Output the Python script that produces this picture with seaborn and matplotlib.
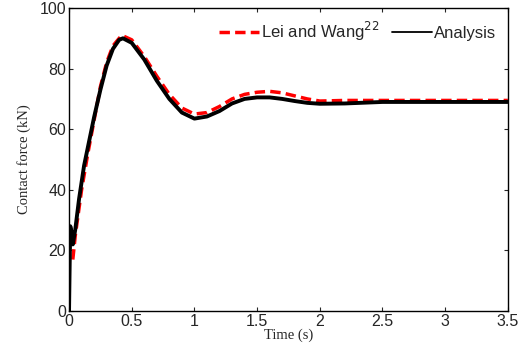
import numpy as np
import pandas as pd
import matplotlib
matplotlib.use("Agg")
import matplotlib.pyplot as plt
import seaborn as sns
from matplotlib.lines import Line2D

# Analysis curve (time in s, force in kN)
analysis_t = [0, 0.005, 0.01, 0.02, 0.03, 0.05, 0.08, 0.12, 0.16, 0.2, 0.25, 0.3, 0.35, 0.4, 0.43,
              0.5, 0.6, 0.7, 0.8, 0.9, 1.0, 1.1, 1.2, 1.3, 1.4, 1.5, 1.6, 1.7, 1.8, 1.9, 2.0,
              2.2, 2.5, 3.0, 3.5]
analysis_f = [0, 15, 28, 26, 22, 27, 37, 48, 56, 64, 73, 81, 86.5, 89.5, 90,
              88.5, 83, 76, 70, 65.5, 63.5, 64.2, 66, 68.5, 70, 70.5, 70.5, 70, 69.3, 68.7, 68.4,
              68.5, 69, 69, 69]

# Lei and Wang reference curve
lei_t = [0.03, 0.05, 0.1, 0.15, 0.2, 0.25, 0.3, 0.35, 0.42, 0.5, 0.6, 0.7, 0.8, 0.9, 1.0,
         1.1, 1.2, 1.3, 1.4, 1.5, 1.6, 1.7, 1.8, 1.9, 2.0, 2.2, 2.5, 3.0, 3.5]
lei_f = [17, 25, 40, 52, 63, 74, 82, 87.5, 91, 89.5, 84, 77.5, 71.5, 67, 65,
         65.5, 67.5, 70, 71.5, 72.2, 72.5, 72, 71, 70, 69.3, 69.5, 69.5, 69.5, 69.5]

x_ticks = [0, 0.5, 1, 1.5, 2, 2.5, 3, 3.5]
x_ticklabels = ["0", "0.5", "1", "1.5", "2", "2.5", "3", "3.5"]
y_ticks = [0, 20, 40, 60, 80, 100]

sns.set_style("ticks")
plt.rcParams['font.family'] = ['Liberation Sans', 'DejaVu Sans']

fig = plt.figure(figsize=(5.23, 3.63), dpi=100)
ax = fig.add_axes([0.132, 0.143, 0.839, 0.835])

df_a = pd.DataFrame({"t": analysis_t, "f": analysis_f})
df_l = pd.DataFrame({"t": lei_t, "f": lei_f})

sns.lineplot(data=df_l, x="t", y="f", ax=ax, color="#ff0000", lw=2.5,
             linestyle=(0, (3, 1.5)), label="Lei and Wang$^{22}$", zorder=2)
sns.lineplot(data=df_a, x="t", y="f", ax=ax, color="black", lw=2.8,
             label="Analysis", zorder=3)

ax.set_xlim(0, 3.5)
ax.set_ylim(0, 100)
ax.set_xticks(x_ticks)
ax.set_xticklabels(x_ticklabels)
ax.set_yticks(y_ticks)
ax.tick_params(direction="in", length=3, width=0.8, labelsize=11.5, top=True, right=True, pad=2)
for s in ax.spines.values():
    s.set_linewidth(1.0)
    s.set_color("black")

ax.set_xlabel("Time (s)", family="Liberation Serif", fontsize=10.5, labelpad=0)
ax.set_ylabel("Contact force (kN)", family="Liberation Serif", fontsize=10.5, labelpad=6)

handles, labels = ax.get_legend_handles_labels()
h = [Line2D([], [], color="#ff0000", lw=2.5, linestyle=(0, (3, 1.5))),
     Line2D([], [], color="black", lw=1.3)]
ax.legend(h, labels, loc="upper right", ncol=2, frameon=False, fontsize=12,
          handlelength=2.4, handletextpad=0.15, columnspacing=0.7,
          borderaxespad=0.3, bbox_to_anchor=(1.0, 1.0))

fig.savefig("out.png", dpi=100)
